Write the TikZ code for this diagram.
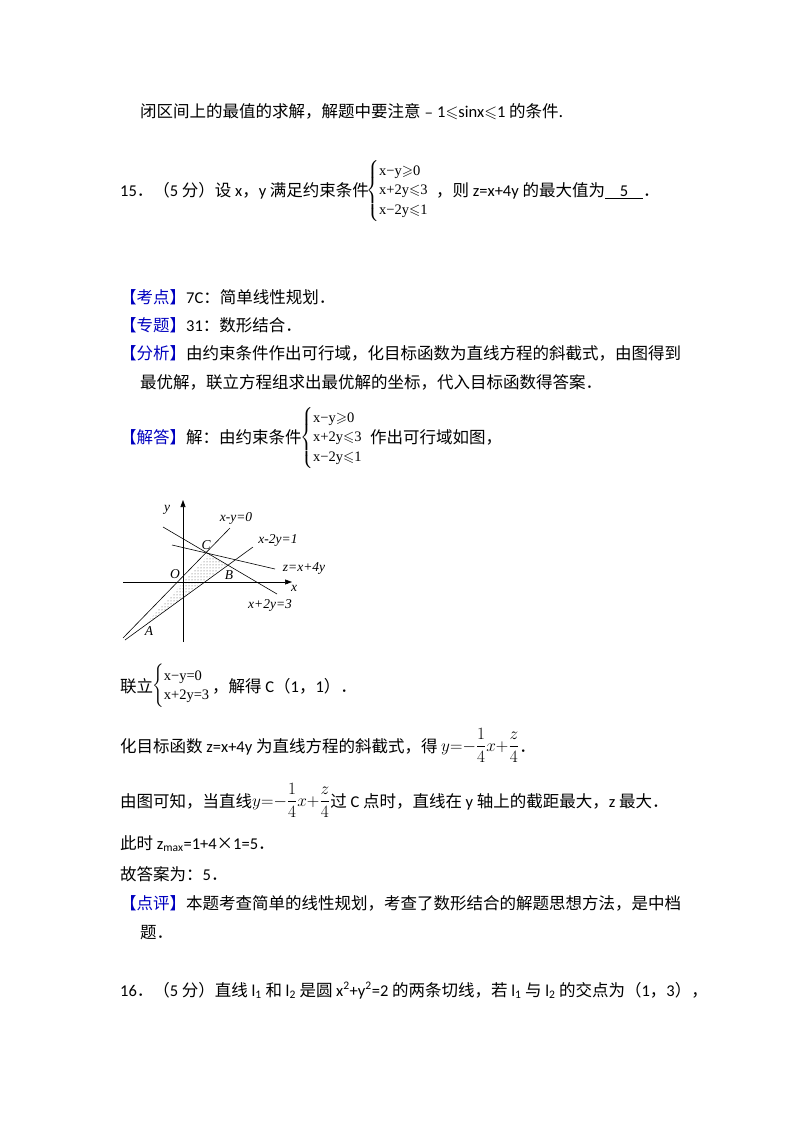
\documentclass[tikz,border=0pt]{standalone}
\usepackage{amsmath,amssymb}
\usepackage{fontspec}
\setmainfont{Noto Sans CJK SC}
\newfontfamily\lat{Carlito}
\newfontfamily\tms{Liberation Serif}
\usetikzlibrary{patterns,arrows.meta}
\newcommand{\mysys}[1]{{\tms\fontsize{14.5}{21}\selectfont\renewcommand\arraystretch{0.95}$\left\{\begin{tabular}{@{}l@{}}#1\end{tabular}\right.$}}
\tikzset{txt/.style={anchor=base west,inner sep=0pt,font=\fontsize{16.5}{20}\selectfont},
 lab/.style={inner sep=0pt,font=\tms\itshape\fontsize{13.5}{15}\selectfont},
 ln/.style={line width=0.6pt}}
\begin{document}
\begin{tikzpicture}[x=1pt,y=-1pt]
\useasboundingbox (0,0) rectangle (800,1132);
\node[txt] (l1) at (140,117) {闭区间上的最值的求解，解题中要注意﹣{\lat 1}$\leqslant${\lat sinx}$\leqslant${\lat 1} 的条件.};
\node[txt] (q15) at (120,196) {{\lat 15}．（{\lat 5} 分）设 {\lat x}，{\lat y} 满足约束条件};
\node[anchor=west,inner sep=0pt] (s1) at (366,191) {\mysys{x−y$\geqslant$0\\x+2y$\leqslant$3\\x−2y$\leqslant$1}};
\node[txt] (q15b) at (436,196) {，则 {\lat z=x+4y} 的最大值为\underline{\lat\ \ \ \ 5\ \ \ \ }．};
\node[txt] (k) at (120,303) {{\color{blue!75!black}【考点】}{\lat 7C}：简单线性规划．};
\node[txt] (zt) at (120,331) {{\color{blue!75!black}【专题】}{\lat 31}：数形结合．};
\node[txt] (fx) at (120,359) {{\color{blue!75!black}【分析】}由约束条件作出可行域，化目标函数为直线方程的斜截式，由图得到};
\node[txt] (fx2) at (140,388) {最优解，联立方程组求出最优解的坐标，代入目标函数得答案．};
\node[txt] (jd) at (120,443) {{\color{blue!75!black}【解答】}解：由约束条件};
\node[anchor=west,inner sep=0pt] (s2) at (300,438) {\mysys{x−y$\geqslant$0\\x+2y$\leqslant$3\\x−2y$\leqslant$1}};
\node[txt] (jd2) at (370,443) {作出可行域如图，};
% graph
\coordinate (O) at (183,582);
\coordinate (A) at (143,627);
\coordinate (C) at (208,555);
\coordinate (B) at (227,564);
\fill[pattern=dots,pattern color=black!70] (A) -- (C) -- (B) -- cycle;
\draw[ln,-{Triangle[length=7pt,width=5pt]}] (123,582) -- (292,582);
\draw[ln,-{Triangle[length=7pt,width=5pt]}] (183,642) -- (183,500);
\draw[ln] (123,638) -- (230,528);
\draw[ln] (125,640) -- (253,547);
\draw[ln] (163,527) -- (277,594);
\draw[ln] (172,545) -- (275,569);
\node[lab] (ly) at (167,510) {y};
\node[lab] (lx) at (294,588) {x};
\node[lab] (l0) at (236,518) {x-y=0};
\node[lab] (l1e) at (278,540) {x-2y=1};
\node[lab] (l2) at (270,605) {x+2y=3};
\node[lab] (l3) at (304,569) {z=x+4y};
\node[lab] (lC) at (206,545) {C};
\node[lab] (lO) at (175,574) {O};
\node[lab] (lB) at (229,575) {B};
\node[lab] (lA) at (149,631) {A};
% after graph
\node[txt] (ll) at (120,692) {联立};
\node[anchor=west,inner sep=0pt] (s3) at (152,686) {\mysys{x−y=0\\x+2y=3}};
\node[txt] (ll2) at (212,692) {，解得 {\lat C}（{\lat 1}，{\lat 1}）．};
\node[txt] (h) at (120,752) {化目标函数 {\lat z=x+4y} 为直线方程的斜截式，得 \raisebox{1pt}{$y{=}{-}\dfrac{1}{4}x{+}\dfrac{z}{4}$}．};
\node[txt] (yt) at (120,807) {由图可知，当直线\raisebox{1pt}{$y{=}{-}\dfrac{1}{4}x{+}\dfrac{z}{4}$}过 {\lat C} 点时，直线在 {\lat y} 轴上的截距最大，{\lat z} 最大．};
\node[txt] (cs) at (120,849) {此时 {\lat z\textsubscript{max}=1+4}×{\lat 1=5}．};
\node[txt] (gd) at (120,880) {故答案为：{\lat 5}．};
\node[txt] (dp) at (120,909) {{\color{blue!75!black}【点评】}本题考查简单的线性规划，考查了数形结合的解题思想方法，是中档};
\node[txt] (dp2) at (140,938) {题．};
\node[txt] (q16) at (120,996) {{\lat 16}．（{\lat 5} 分）直线 {\lat l\textsubscript{1}} 和 {\lat l\textsubscript{2}} 是圆 {\lat x\textsuperscript{2}+y\textsuperscript{2}=2} 的两条切线，若 {\lat l\textsubscript{1}} 与 {\lat l\textsubscript{2}} 的交点为（{\lat 1}，{\lat 3}），};
\end{tikzpicture}
\end{document}
